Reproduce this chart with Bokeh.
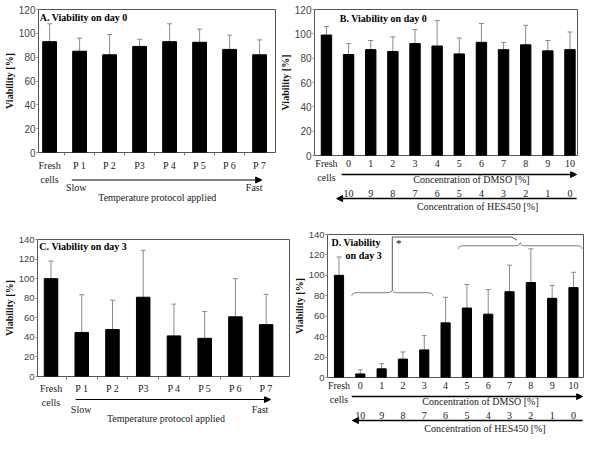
from bokeh.plotting import figure
from bokeh.layouts import row, column
from bokeh.models import (Range1d, FixedTicker, Whisker, TeeHead, ColumnDataSource,
                          Arrow, NormalHead)
from bokeh.embed import file_html
from bokeh.resources import INLINE
from bokeh.core.properties import value

SERIF = "Liberation Serif"
SANS = "Liberation Sans"

# ---------------- data ----------------
temp_labels = ["Fresh", "P 1", "P 2", "P3", "P 4", "P 5", "P 6", "P 7"]
A_vals = [93, 85, 82, 89, 93, 92.5, 86.5, 82]
A_errs = [15, 11, 17, 6, 15, 11, 12, 12.5]
C_vals = [100, 45, 48, 81, 41.5, 39, 61, 53]
C_errs = [18, 38.5, 30, 48, 32.5, 27.5, 39, 31]

dmso_labels = ["Fresh", "0", "1", "2", "3", "4", "5", "6", "7", "8", "9", "10"]
hes_labels = ["10", "9", "8", "7", "6", "5", "4", "3", "2", "1", "0"]
B_vals = [99, 83, 87, 85.5, 92, 90, 83.5, 93, 87, 91, 86, 87]
B_errs = [7, 9, 7.5, 12, 11.5, 21, 13, 15.5, 6, 16, 8.5, 14.5]
D_vals = [100, 3.5, 8.5, 18, 27, 53.5, 68, 62, 84, 93, 77.5, 88]
D_errs = [18, 4, 5, 7, 14, 25, 23, 24, 26, 33, 12.5, 15]

# bracketed groups in panel D (category index spans) and their brace levels
brace_groups = [(1, 4), (6, 11)]
brace_levels = [83, 129]
bracket_top = 137.5
star_text = "*"

BL = 31  # left border of every figure


def main_fig(W, H, br, bt, bb, xr, ymax, tick_size, labels, standoff, boundary_ticks):
    p = figure(width=W, height=H, x_range=Range1d(*xr), y_range=Range1d(0, ymax),
               toolbar_location=None, output_backend="svg",
               min_border_left=BL, min_border_right=br, min_border_top=bt,
               min_border_bottom=bb)
    p.xgrid.grid_line_color = None
    p.ygrid.grid_line_color = None
    p.outline_line_color = "#555555"
    p.outline_line_width = 1
    ax = p.yaxis[0]
    ax.ticker = FixedTicker(ticks=list(range(0, ymax + 1, 20)))
    ax.axis_label = "Viability [%]"
    ax.axis_label_text_font = SERIF
    ax.axis_label_text_font_style = "bold"
    ax.axis_label_text_font_size = "10px"
    ax.axis_label_text_color = "#111111"
    ax.axis_label_standoff = 1
    ax.major_label_text_font = SANS
    ax.major_label_text_font_size = tick_size
    ax.major_label_text_color = "#444444"
    ax.major_label_standoff = 1
    ax.major_tick_out = 2
    ax.major_tick_in = 0
    ax.major_tick_line_color = "#888888"
    ax.minor_tick_line_color = None
    ax.axis_line_color = None

    n = len(labels)
    xa = p.xaxis[0]
    minor = [i + 0.5 for i in range(n - 1)] if boundary_ticks else []
    xa.ticker = FixedTicker(ticks=list(range(n)), minor_ticks=minor)
    xa.major_label_overrides = {i: lab for i, lab in enumerate(labels)}
    xa.major_label_text_font = SERIF
    xa.major_label_text_font_size = "10px"
    xa.major_label_text_color = "#1a1a1a"
    xa.major_label_standoff = standoff
    xa.major_tick_line_color = None
    xa.major_tick_out = 0
    xa.major_tick_in = 0
    xa.minor_tick_out = 3
    xa.minor_tick_in = 0
    xa.minor_tick_line_color = "#777777"
    xa.axis_line_color = None
    return p


def bars(p, vals, errs, width):
    xs = list(range(len(vals)))
    src = ColumnDataSource(dict(x=xs, top=vals,
                                upper=[v + e for v, e in zip(vals, errs)]))
    p.add_layout(Whisker(source=src, base="x", lower="top", upper="upper",
                         dimension="height", line_color="#8a8a8a", line_width=1,
                         upper_head=TeeHead(size=5, line_color="#8a8a8a"),
                         lower_head=TeeHead(size=1, line_alpha=0), level="underlay"))
    p.vbar(x="x", top="top", width=width, source=src, fill_color="black",
           line_color="black")


def title(p, xs, ys, texts):
    p.text(x=xs, y=ys, text=texts, text_font=value(SERIF), text_font_style="bold",
           text_font_size="10px", text_align="left", text_baseline="middle",
           text_color="black")


def lower_fig(main, W, H, br):
    lo = figure(width=W, height=H, x_range=main.x_range, y_range=Range1d(H, 0),
                x_axis_type=None, y_axis_type=None, toolbar_location=None,
                output_backend="svg", min_border_left=BL, min_border_right=br,
                min_border_top=0, min_border_bottom=0)
    lo.outline_line_color = None
    return lo


def txt(lo, xs, ys, texts, align="center"):
    lo.text(x=xs, y=ys, text=texts, text_font=value(SERIF), text_font_size="10px",
            text_align=align, text_baseline="middle", text_color="#1a1a1a")


def arrow(lo, xa, xb, y, lw=1):
    lo.add_layout(Arrow(x_start=xa, y_start=y, x_end=xb, y_end=y, line_width=lw,
                        line_color="black",
                        end=NormalHead(size=6, fill_color="black", line_color="black")))


# ---------------- Panel A ----------------
mA = main_fig(276, 173, 1, 9, 17, (-0.37, 7.53), 120, "10px", temp_labels, 4, True)
bars(mA, A_vals, A_errs, 0.46)
title(mA, [-0.33], [113], ["A.  Viability on day 0"])
lA = lower_fig(mA, 276, 44, 1)
txt(lA, [0], [6], ["cells"])
arrow(lA, 0.74, 7.07, 6.5)
txt(lA, [0.89, 6.82], [14.2, 14.2], ["Slow", "Fast"])
txt(lA, [3.59], [23.9], ["Temperature protocol applied"])

# ---------------- Panel B ----------------
mB = main_fig(308, 171, 7, 9, 15, (-0.54, 11.34), 120, "10px", dmso_labels, 2, False)
bars(mB, B_vals, B_errs, 0.47)
title(mB, [0.6], [113], ["B. Viability on day 0"])
lB = lower_fig(mB, 308, 46, 7)
txt(lB, [0], [6.2], ["cells"])
arrow(lB, 0.69, 11.3, 3, 1.5)
txt(lB, [6.55], [7.5], ["Concentration of DMSO [%]"])
txt(lB, list(range(1, len(hes_labels) + 1)), [21.6] * len(hes_labels), hes_labels)
arrow(lB, 11.3, 0.46, 27.1, 1.5)
txt(lB, [6.83], [35.1], ["Concentration of HES450 [%]"])

# ---------------- Panel C ----------------
mC = main_fig(290, 179, 1, 22, 16, (-0.44, 7.76), 140, "9.5px", temp_labels, 3, True)
bars(mC, C_vals, C_errs, 0.44)
title(mC, [-0.38], [133], ["C.  Viability on day 3"])
lC = lower_fig(mC, 290, 38, 1)
txt(lC, [0], [6], ["cells"])
arrow(lC, 0.8, 7.14, 3)
txt(lC, [0.98, 6.8], [13, 13], ["Slow", "Fast"])
txt(lC, [3.74], [21.5], ["Temperature protocol applied"])

# ---------------- Panel D ----------------
mD = main_fig(294, 176, 1, 17, 15, (-0.54, 11.47), 140, "9.5px", dmso_labels, 2, False)
bars(mD, D_vals, D_errs, 0.43)
title(mD, [-0.35, 0.31], [132, 119], ["D. Viability", "on day 3"])

# braces over the grouped bars
h, d = 3.0, 0.25
nubs = []
for (ga, gb), yb in zip(brace_groups, brace_levels):
    xa, xb = ga - 0.4, gb + 0.4
    xm = (xa + xb) / 2
    nubs.append((xm, yb + h))
    mD.quadratic(x0=[xa, xm - d, xm, xb - d], y0=[yb - h, yb, yb + h, yb],
                 x1=[xa + d, xm, xm + d, xb], y1=[yb, yb + h, yb, yb - h],
                 cx=[xa, xm, xm, xb], cy=[yb, yb, yb, yb],
                 line_color="#7a7a7a", line_width=1)
    mD.segment(x0=[xa + d, xm + d], y0=[yb, yb], x1=[xm - d, xb - d], y1=[yb, yb],
               line_color="#7a7a7a", line_width=1)
(x1n, y1n), (x2n, y2n) = nubs
mD.line(x=[x1n, x1n, x2n - 0.4, x2n - 0.15], y=[y1n, bracket_top, bracket_top, y2n + 2.5],
        line_color="#555555", line_width=1)
mD.text(x=[x1n + 0.3], y=[y2n], text=[star_text], text_font=value(SERIF),
        text_font_size="11px", text_align="center", text_baseline="middle",
        text_color="black")

lD = lower_fig(mD, 294, 41, 1)
txt(lD, [0], [6], ["cells"])
arrow(lD, 0.6, 11.43, 3, 1.5)
txt(lD, [6.64], [7.5], ["Concentration of DMSO [%]"])
txt(lD, list(range(1, len(hes_labels) + 1)), [22] * len(hes_labels), hes_labels)
arrow(lD, 11.43, 0.63, 27, 1.5)
txt(lD, [6.85], [34.5], ["Concentration of HES450 [%]"])

layout = column(row(column(mA, lA), column(mB, lB)),
                row(column(mC, lC), column(mD, lD)))

open("out.html", "w").write(file_html(layout, INLINE))
